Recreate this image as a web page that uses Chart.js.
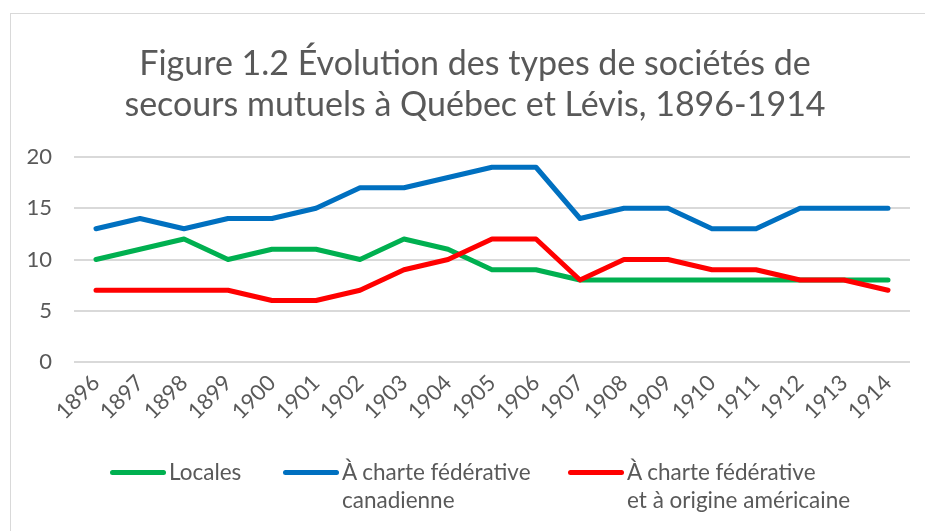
<!DOCTYPE html>
<html>
<head>
<meta charset="utf-8">
<script src="https://cdn.jsdelivr.net/npm/chart.js@4.4.0/dist/chart.umd.min.js"></script>
<style>
  html,body{margin:0;padding:0;background:#fff;overflow:hidden;}
  #wrap{position:relative;width:925px;height:531px;}
  #frame{position:absolute;left:10px;top:13px;width:940px;height:560px;border:1px solid #d9d9d9;box-sizing:border-box;}
  canvas{position:absolute;left:0;top:0;}
  #title{position:absolute;left:0;top:41px;width:950px;text-align:center;font-family:Lato,sans-serif;font-size:34px;line-height:41px;color:#595959;white-space:nowrap;}
  .lg{position:absolute;font-family:Lato,sans-serif;font-size:22.5px;color:#595959;line-height:28px;white-space:nowrap;}
  .sw{position:absolute;height:5px;border-radius:3px;}
</style>
</head>
<body>
<div id="wrap">
  <div id="frame"></div>
  <canvas id="c" width="925" height="531"></canvas>
  <div id="title"></div>
  <div id="legend"></div>
</div>
<script>
const years = ['1896','1897','1898','1899','1900','1901','1902','1903','1904','1905','1906','1907','1908','1909','1910','1911','1912','1913','1914'];
const locales   = [10,11,12,10,11,11,10,12,11,9,9,8,8,8,8,8,8,8,8];
const canadienne = [13,14,13,14,14,15,17,17,18,19,19,14,15,15,13,13,15,15,15];
const americaine = [7,7,7,7,6,6,7,9,10,12,12,8,10,10,9,9,8,8,7];
const yTicks = [0,5,10,15,20];
const seriesNames = [['Locales'],['À charte fédérative','canadienne'],['À charte fédérative','et à origine américaine']];
const seriesColors = ['#00B050','#0070C0','#FF0000'];
const titleLines = ['Figure 1.2 Évolution des types de sociétés de','secours mutuels à Québec et Lévis, 1896-1914'];

const txt = '#595959';
const grid = '#d9d9d9';

document.getElementById('title').innerHTML = titleLines.join('<br>');

// later series drawn on top, like the original
const ds = [locales, canadienne, americaine].map((d,i)=>({
  label: seriesNames[i].join(' '), data: d, order: 3 - i,
  borderColor: seriesColors[i], backgroundColor: seriesColors[i],
  borderWidth: 5, pointRadius: 0, tension: 0, borderCapStyle:'round', borderJoinStyle:'round'
}));

new Chart(document.getElementById('c'), {
  type:'line',
  data:{ labels: years, datasets: ds },
  options:{
    responsive:false, animation:false,
    layout:{ padding:{ left:10, right:15, top:157, bottom:0 } },
    plugins:{
      legend:{ display:false },
      tooltip:{ enabled:false },
      title:{ display:false }
    },
    scales:{
      x:{ offset:true,
        grid:{ display:false, drawTicks:false },
        border:{ display:false },
        ticks:{ color:txt, font:{ family:'Lato', size:22 }, minRotation:45, maxRotation:45, padding:8 },
        afterFit: s => { s.height = 169; }
      },
      y:{ min:0, max:20,
        afterBuildTicks: s => { s.ticks = yTicks.map(v=>({value:v})); },
        grid:{ color:grid, lineWidth:2, drawTicks:false },
        border:{ display:false },
        ticks:{ color:txt, font:{ family:'Lato', size:22 }, padding:22 },
        afterFit: s => { s.width = 64; }
      }
    }
  }
});

const lgX = [110, 283, 568];
const legend = document.getElementById('legend');
legend.innerHTML = seriesNames.map((n,i)=>`
  <div class="sw" style="left:${lgX[i]}px;top:470px;width:56px;background:${seriesColors[i]}"></div>
  <div class="lg" style="left:${lgX[i]+59}px;top:458px">${n.join('<br>')}</div>`).join('');
</script>
</body>
</html>
